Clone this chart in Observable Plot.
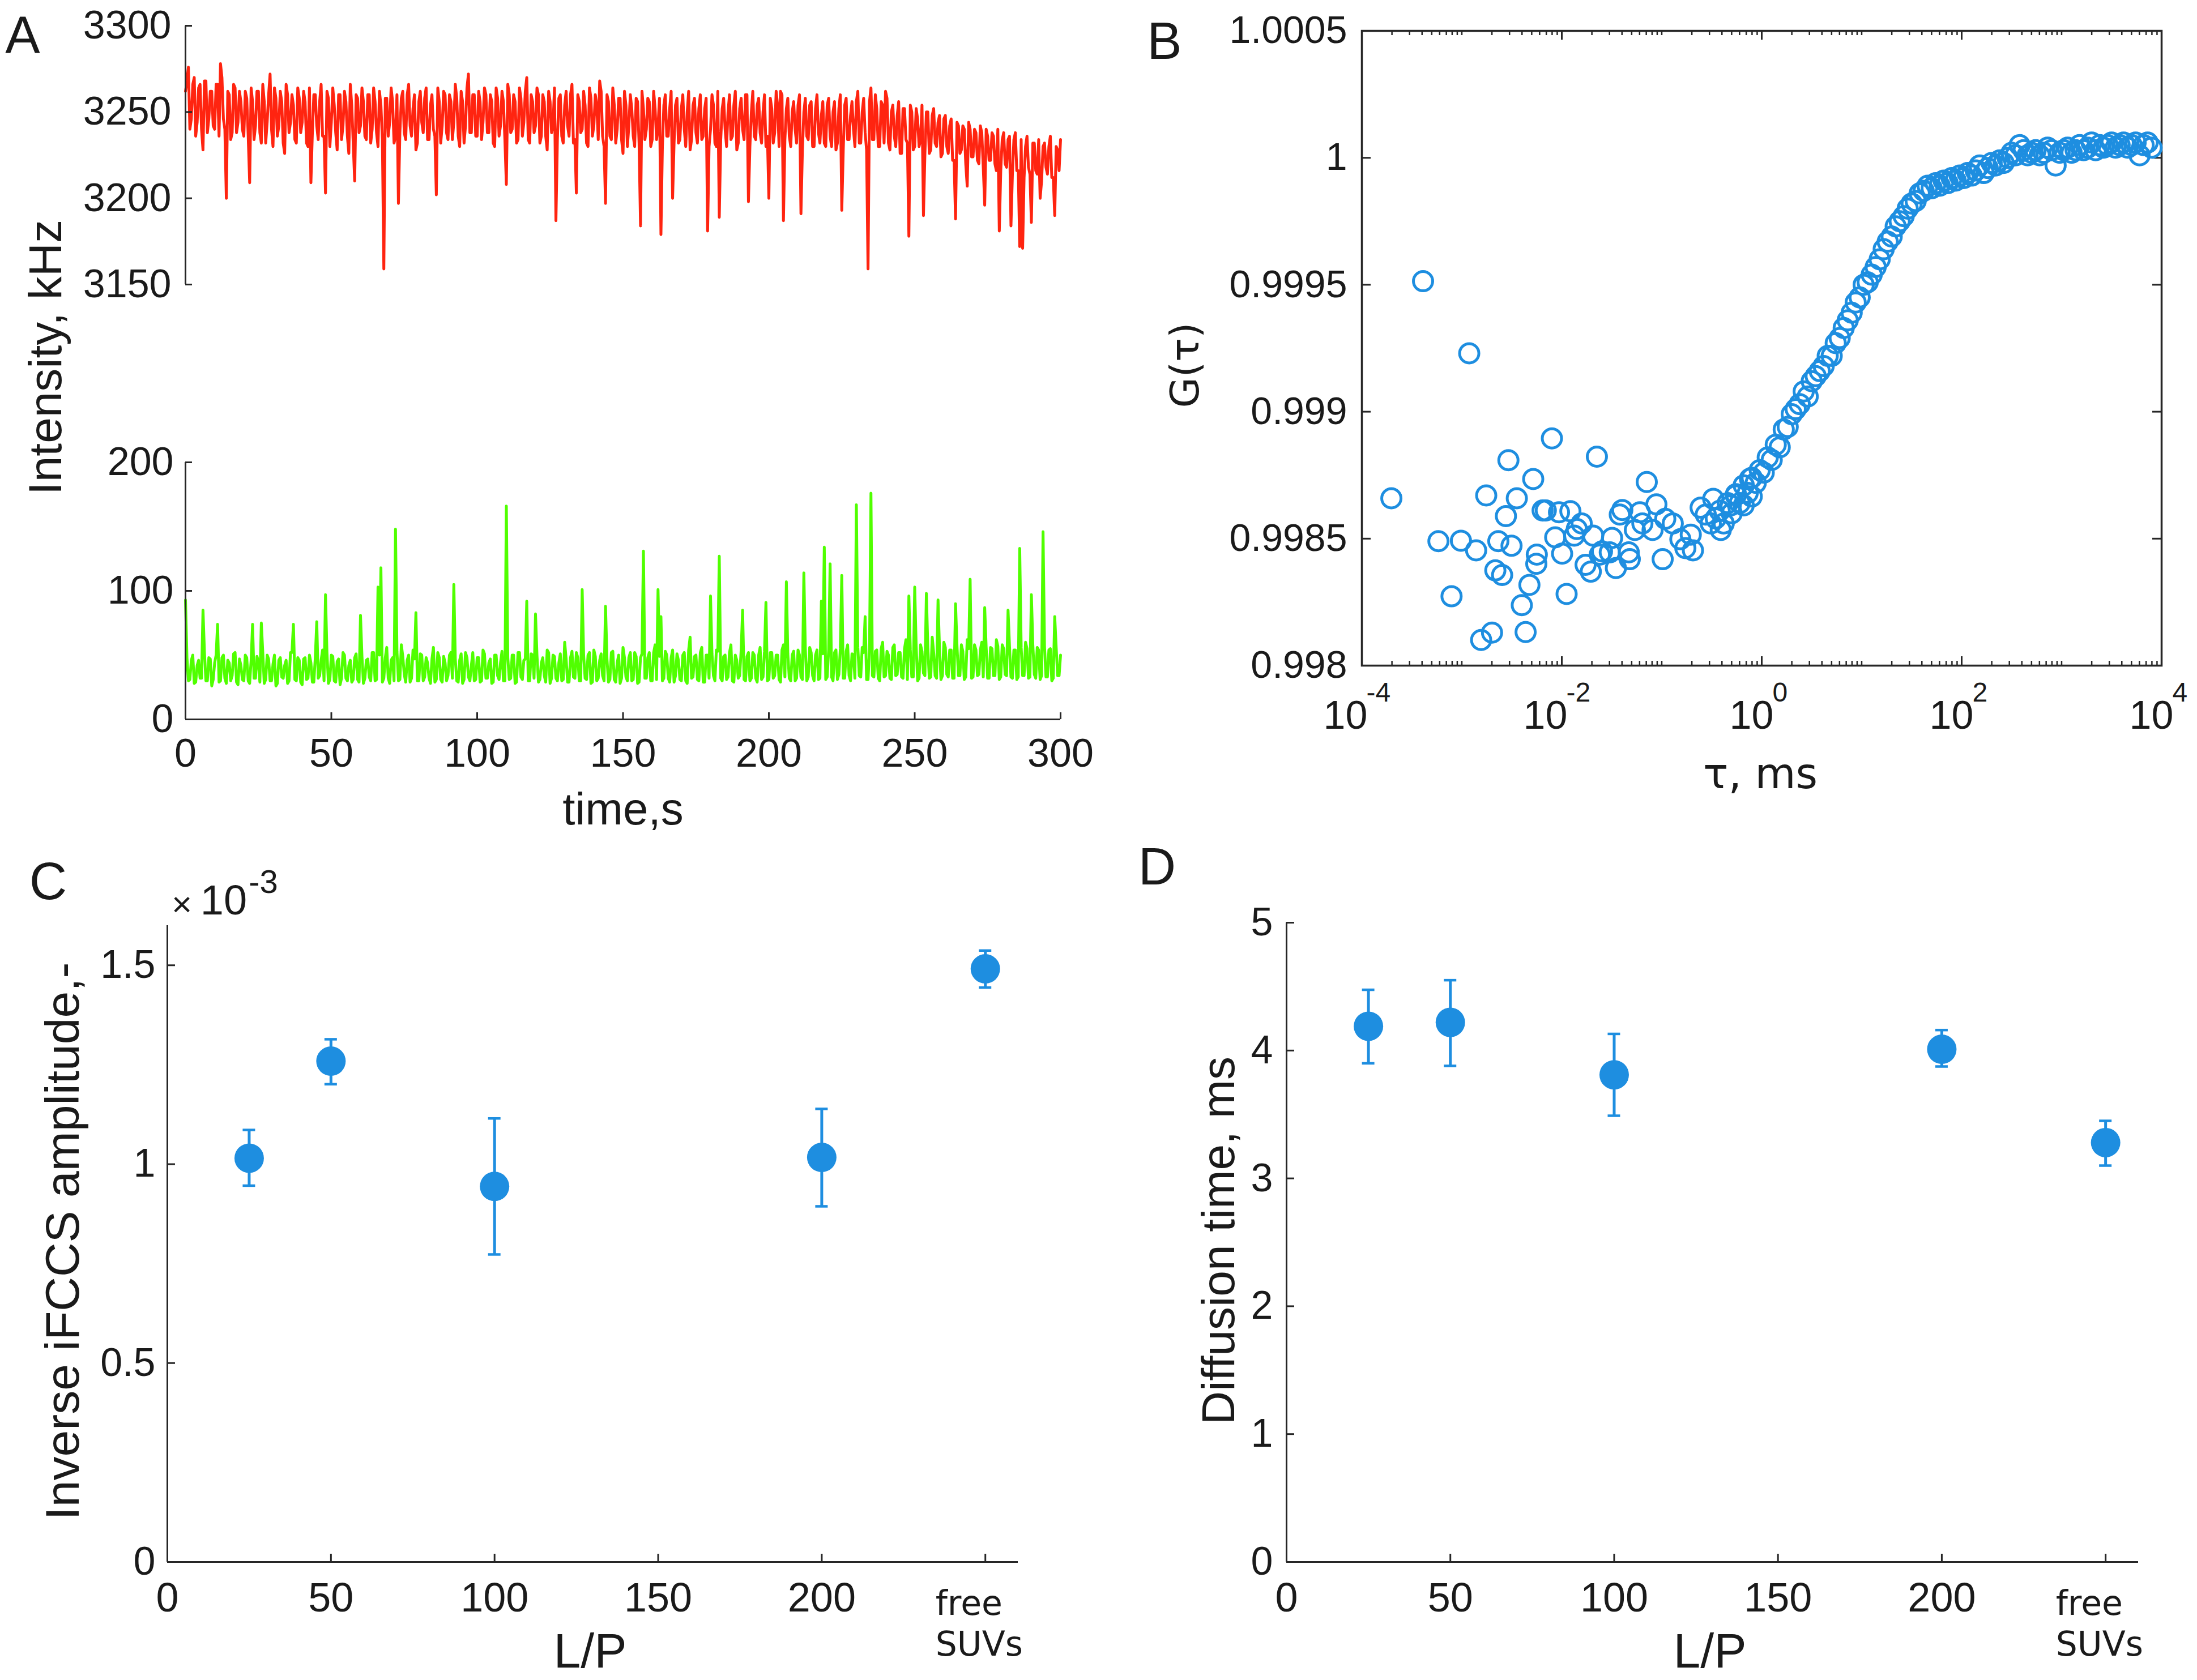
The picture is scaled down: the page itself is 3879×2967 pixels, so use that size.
<!DOCTYPE html>
<html><head><meta charset="utf-8">
<script src="https://cdn.jsdelivr.net/npm/d3@7"></script>
<script src="https://cdn.jsdelivr.net/npm/@observablehq/plot@0.6"></script>
<style>
body{margin:0;background:#fff;}
#fig{position:relative;width:3879px;height:2967px;background:#fff;overflow:hidden;font-family:"Liberation Sans",Arial,sans-serif;color:#1a1a1a;}
.lbl{position:absolute;white-space:nowrap;line-height:1;}
</style></head><body><div id="fig"></div>
<script>
// ---------------- DATA ----------------
// Panel A: time axis (s) and intensity traces (samples at whole seconds and at half seconds)
const timeSec = d3.range(0, 301);
const redTrace = [
3262,3276,3246,3270,3244,3266,3228,3268,3246,3262,3240,3266,3278,3246,3200,3260,3238,3264,3244,3256,
3236,3258,3209,3256,3242,3262,3232,3256,3244,3272,3230,3258,3242,3256,3226,3260,3244,3254,3232,3258,
3244,3256,3230,3209,3260,3242,3256,3236,3203,3258,3244,3254,3228,3260,3242,3256,3226,3254,3210,3258,
3242,3256,3234,3260,3240,3256,3230,3254,3159,3258,3244,3256,3236,3197,3258,3238,3260,3242,3252,3228,
3256,3244,3258,3234,3254,3240,3202,3256,3242,3260,3234,3256,3244,3258,3230,3256,3242,3272,3238,3260,
3236,3256,3244,3260,3238,3256,3230,3258,3242,3256,3208,3260,3240,3256,3234,3258,3244,3270,3232,3256,
3242,3260,3236,3256,3228,3256,3242,3187,3258,3236,3254,3242,3260,3232,3203,3256,3240,3254,3230,3258,
3242,3254,3268,3236,3197,3256,3234,3254,3240,3258,3226,3254,3242,3252,3230,3256,3184,3252,3240,3256,
3234,3252,3242,3179,3254,3236,3252,3200,3254,3232,3252,3240,3250,3228,3254,3238,3252,3234,3252,3181,
3240,3254,3230,3189,3252,3240,3250,3234,3254,3228,3252,3240,3260,3198,3250,3236,3254,3238,3250,3230,
3200,3252,3238,3254,3262,3187,3252,3236,3250,3240,3254,3191,3250,3236,3254,3230,3252,3238,3248,3232,
3254,3236,3250,3228,3252,3193,3254,3234,3248,3240,3256,3232,3250,3238,3159,3264,3234,3252,3230,3254,
3262,3232,3250,3236,3248,3226,3252,3234,3178,3250,3230,3246,3234,3190,3250,3226,3248,3232,3244,3224,
3246,3230,3242,3222,3188,3242,3228,3240,3207,3240,3224,3238,3220,3238,3196,3236,3222,3236,3216,3181,
3234,3220,3234,3184,3234,3216,3172,3171,3230,3218,3186,3232,3214,3200,3230,3218,3230,3212,3190,3228,
3234];
const redMid = [
3268,3240,3266,3236,3264,3240,3268,3238,3262,3242,3266,3236,3270,3240,3262,3234,3266,3238,3262,3240,
3262,3236,3264,3234,3262,3238,3266,3232,3260,3240,3264,3236,3262,3232,3266,3238,3260,3234,3264,3238,
3262,3232,3264,3238,3260,3234,3266,3236,3262,3230,3264,3238,3260,3234,3262,3236,3266,3232,3260,3238,
3264,3236,3260,3232,3264,3238,3262,3234,3258,3236,3264,3232,3260,3238,3262,3234,3266,3236,3260,3232,
3262,3238,3264,3234,3260,3236,3264,3232,3262,3238,3260,3234,3266,3236,3262,3232,3264,3238,3260,3236,
3262,3234,3264,3238,3260,3232,3264,3236,3262,3234,3266,3238,3260,3232,3264,3236,3262,3234,3260,3238,
3264,3232,3260,3236,3262,3238,3264,3234,3260,3232,3262,3236,3266,3234,3260,3238,3262,3232,3264,3236,
3260,3234,3262,3230,3260,3236,3264,3232,3258,3234,3262,3230,3260,3236,3258,3232,3262,3234,3258,3230,
3262,3234,3258,3230,3260,3236,3262,3232,3258,3234,3260,3230,3262,3234,3258,3232,3260,3236,3258,3230,
3260,3232,3262,3234,3258,3230,3260,3236,3262,3232,3258,3234,3260,3230,3262,3234,3258,3232,3260,3236,
3258,3232,3262,3230,3260,3234,3258,3230,3256,3232,3260,3228,3258,3234,3256,3230,3260,3232,3256,3230,
3258,3230,3256,3232,3260,3228,3258,3234,3256,3230,3262,3232,3258,3228,3256,3234,3260,3230,3256,3232,
3258,3228,3254,3230,3256,3226,3252,3232,3254,3228,3252,3230,3254,3226,3250,3228,3252,3230,3248,3226,
3248,3226,3246,3222,3244,3226,3242,3220,3244,3224,3240,3222,3242,3218,3240,3222,3238,3220,3240,3216,
3238,3218,3236,3214,3238,3216,3234,3212,3236,3214,3232,3216,3234,3210,3232,3214,3236,3212,3230,3216];
const greenTrace = [
93,30,46,28,42,32,85,30,48,26,44,74,30,50,28,44,34,52,27,42,
30,48,28,74,32,45,75,28,50,30,43,26,46,33,42,28,52,74,30,46,
27,48,32,44,29,76,34,54,97,28,50,30,45,27,52,32,42,29,48,31,
81,28,46,33,52,30,103,118,32,56,28,48,148,30,58,35,46,29,54,83,
30,50,33,44,28,56,31,48,29,44,34,52,105,30,46,28,52,33,42,30,
48,29,54,32,44,28,50,34,44,30,166,31,50,28,52,33,46,92,30,50,
82,29,44,34,54,28,50,32,44,30,60,29,48,33,52,30,101,32,50,28,
54,30,46,34,88,29,52,31,44,28,56,33,48,30,52,28,48,131,32,52,
30,58,101,80,32,50,29,54,34,46,30,52,28,64,33,50,30,56,29,50,
96,34,54,127,30,50,33,58,29,46,34,85,30,52,32,50,29,56,33,91,
31,52,34,50,29,58,107,32,50,30,54,33,114,30,56,34,50,31,92,134,
33,121,30,54,35,112,32,58,30,50,167,34,56,80,31,176,33,54,30,60,
34,50,31,58,35,52,32,62,96,33,103,30,58,36,98,32,64,34,93,31,
60,35,54,32,90,34,58,31,62,109,33,54,35,60,87,32,56,34,62,31,
58,35,85,33,54,31,133,34,60,32,97,35,56,31,146,33,54,30,80,34,
50];
const greenMid = [
48,31,50,29,46,32,52,30,47,31,50,29,48,32,46,30,51,29,47,31,
50,30,46,32,49,29,52,31,47,30,50,28,48,32,46,30,52,31,48,29,
47,31,50,29,48,32,46,30,52,31,49,29,47,32,50,30,46,31,51,29,
49,32,47,30,52,31,50,29,48,32,46,30,53,31,49,29,50,32,47,30,
51,30,48,32,47,29,52,31,49,30,50,32,47,29,51,31,48,30,52,31,
48,30,51,32,47,29,50,31,53,30,48,32,50,29,52,31,47,30,51,32,
50,31,48,29,52,32,49,30,51,31,47,29,53,32,48,30,50,31,52,29,
49,32,51,30,47,31,53,29,50,32,48,30,52,31,49,29,51,32,48,30,
52,31,49,30,53,32,48,29,51,31,50,30,54,32,49,31,52,29,50,32,
51,30,53,32,49,31,52,30,50,32,54,31,49,30,52,32,50,31,53,30,
52,32,50,31,54,33,51,30,53,32,50,31,55,33,52,30,54,32,51,31,
54,33,52,31,55,32,53,34,51,32,56,33,52,31,54,34,53,32,55,33,
53,32,56,34,52,33,55,31,54,33,57,32,53,34,56,33,52,32,55,34,
56,33,54,32,57,34,53,33,55,32,58,34,54,33,56,32,55,34,57,33,
55,34,57,32,54,33,56,34,55,33,58,32,54,34,57,33,55,32,56,34];
const topTicks = [3150, 3200, 3250, 3300];
const bottomTicks = [0, 100, 200];
const timeTicks = [0, 50, 100, 150, 200, 250, 300];

// Panel B: correlation curve, log10(tau/ms) and G(tau)
const scatterLogTau = [-3.705,-3.388,-2.926,-2.099,-1.649,-2.534,-2.286,-2.756,-2.450,-2.559,-1.150,-2.192,-2.160,-2.028,-1.914,-1.395,-1.420,-1.054,-1.219,-3.234,-3.009,-2.857,-2.635,-2.503,-2.066,-2.250,-2.255,-1.997,-1.876,-1.801,-1.850,-1.686,-2.665,-2.597,-2.324,-3.103,-2.400,-1.952,-2.362,-2.698,-2.807,-1.762,-1.710,-1.598,-1.497,-1.459,-1.320,-1.330,-1.520,-1.620,-1.269,-1.194,-1.092,-0.991,-0.965,-0.890,-0.814,-0.764,-0.688,-0.710,-0.611,-0.485,-0.510,-0.410,-0.560,-0.258,-0.118,-0.180,-0.310,-0.100];
const scatterG = [0.998659,0.999514,0.999230,0.998895,0.998823,0.998809,0.998735,0.998670,0.998659,0.998589,0.998723,0.998611,0.998611,0.998604,0.998608,0.998613,0.998595,0.998635,0.998604,0.998490,0.998492,0.998454,0.998490,0.998472,0.998505,0.998437,0.998401,0.998441,0.998512,0.998560,0.998538,0.998512,0.998375,0.998357,0.998318,0.998273,0.998238,0.998282,0.998132,0.998130,0.998101,0.998397,0.998370,0.998450,0.998503,0.998384,0.998419,0.998446,0.998446,0.998437,0.998534,0.998560,0.998534,0.998419,0.998578,0.998560,0.998498,0.998463,0.998454,0.998516,0.998622,0.998657,0.998560,0.998534,0.998595,0.998675,0.998736,0.998631,0.998631,0.998666];
const curveLogTau = [-0.46,-0.42,-0.38,-0.34,-0.30,-0.26,-0.22,-0.18,-0.14,-0.10,-0.06,-0.02,0.02,0.06,0.10,0.14,0.18,0.22,0.26,0.30,0.34,0.38,0.42,0.46,0.50,0.54,0.58,0.62,0.66,0.70,0.74,0.78,0.82,0.86,0.90,0.94,0.98,1.02,1.06,1.10,1.14,1.18,1.22,1.26,1.30,1.34,1.38,1.42,1.46,1.50,1.54,1.58,1.62,1.66,1.70,1.74,1.78,1.82,1.86,1.90,1.94,1.98,2.02,2.06,2.10,2.14,2.18,2.22,2.26,2.30,2.34,2.38,2.42,2.46,2.50,2.54,2.58,2.62,2.66,2.70,2.74,2.78,2.82,2.86,2.90,2.94,2.98,3.02,3.06,3.10,3.14,3.18,3.22,3.26,3.30,3.34,3.38,3.42,3.46,3.50,3.54,3.58,3.62,3.66,3.70,3.74,3.78,3.82,3.86,3.90];
const curveG = [0.99858,0.99861,0.99856,0.99864,0.99860,0.99867,0.99864,0.99871,0.99868,0.99874,0.99872,0.99877,0.99876,0.99882,0.99881,0.99887,0.99886,0.99893,0.99894,0.99899,0.99901,0.99903,0.99908,0.99906,0.99912,0.99914,0.99916,0.99918,0.99922,0.99922,0.99927,0.99929,0.99933,0.99936,0.99939,0.99943,0.99945,0.99950,0.99951,0.99954,0.99957,0.99960,0.99964,0.99967,0.99969,0.99973,0.99975,0.99977,0.99980,0.99982,0.99983,0.99986,0.99987,0.99989,0.99988,0.99990,0.99989,0.99991,0.99990,0.99992,0.99991,0.99993,0.99992,0.99994,0.99993,0.99995,0.99997,0.99994,0.99996,0.99998,0.99997,0.99999,0.99998,1.00000,1.00002,1.00001,1.00005,1.00003,1.00001,1.00002,1.00003,1.00001,1.00002,1.00004,1.00003,0.99997,1.00002,1.00003,1.00004,1.00002,1.00003,1.00005,1.00003,1.00004,1.00006,1.00003,1.00005,1.00004,1.00005,1.00006,1.00004,1.00005,1.00006,1.00004,1.00005,1.00006,1.00001,1.00005,1.00006,1.00004];
const tauTicks = [1e-4, 1e-2, 1, 1e2, 1e4];
const tauExpLabels = ["-4", "-2", "0", "2", "4"];
const gTicks = [0.998, 0.9985, 0.999, 0.9995, 1, 1.0005];
const gTickLabels = ["0.998", "0.9985", "0.999", "0.9995", "1", "1.0005"];

// Panels C and D: L/P ratio series
const lpValues = [25, 50, 100, 200, 250];
const ampMean = [1.015, 1.259, 0.944, 1.017, 1.491];
const ampLow  = [0.946, 1.201, 0.773, 0.894, 1.444];
const ampHigh = [1.086, 1.314, 1.115, 1.139, 1.537];
const diffMean = [4.19, 4.22, 3.81, 4.01, 3.28];
const diffLow  = [3.90, 3.88, 3.49, 3.875, 3.10];
const diffHigh = [4.475, 4.55, 4.13, 4.16, 3.45];
const lpTicks = [0, 50, 100, 150, 200, 250];
const lpTickLabels = ["0", "50", "100", "150", "200"];
const lpLastLabel = "free\nSUVs";
const ampTicks = [0, 0.5, 1, 1.5];
const ampTickLabels = ["0", "0.5", "1", "1.5"];
const diffTicks = [0, 1, 2, 3, 4, 5];
const diffTickLabels = ["0", "1", "2", "3", "4", "5"];

// ---------------- STYLE ----------------
const AX = "#262626", TXT = "#1a1a1a";
const RED = "#ff2410", GREEN = "#50ff00", BLUE = "#1e8ee0";
const SANS = '"Liberation Sans", Arial, Helvetica, sans-serif';
const DEJAVU = '"DejaVu Sans", sans-serif';
const fig = document.getElementById("fig");
function place(svg, left, top) {
  svg.style.position = "absolute"; svg.style.left = left + "px"; svg.style.top = top + "px";
  svg.style.maxWidth = "none"; svg.style.overflow = "visible"; svg.style.background = "transparent";
  fig.appendChild(svg);
}
function label(html, x, y, size, opts = {}) {
  const d = document.createElement("div");
  d.className = "lbl";
  d.innerHTML = html;
  d.style.left = x + "px"; d.style.top = y + "px";
  d.style.fontSize = size + "px";
  d.style.fontFamily = opts.family || SANS;
  d.style.transform = "translate(-50%,-50%)" + (opts.rotate ? " rotate(-90deg)" : "");
  fig.appendChild(d);
}
const baseStyle = {fontFamily: SANS, color: TXT, background: "transparent", overflow: "visible"};
// merge whole-second and half-second samples in time order
function merge(whole, half) {
  const rows = [];
  timeSec.forEach((t, i) => {
    rows.push({t, v: whole[i]});
    if (i < half.length) rows.push({t: t + 0.5, v: half[i]});
  });
  return rows;
}
const redSeries = merge(redTrace, redMid);
const greenSeries = merge(greenTrace, greenMid);

// ---------------- PANEL A (top, red) ----------------
{
  const W = 1950, H = 540, mL = 327, mR = 78, mT = 45, mB = 38;
  const fw = W - mL - mR;
  place(Plot.plot({
    width: W, height: H, marginLeft: mL, marginRight: mR, marginTop: mT, marginBottom: mB,
    style: {...baseStyle, fontSize: "70px"},
    x: {domain: [0, 300], axis: null},
    y: {domain: [3150, 3300], axis: null},
    marks: [
      Plot.text(topTicks, {y: d => d, text: d => String(d), frameAnchor: "left", textAnchor: "end", dx: -25, fontSize: 70, fill: TXT}),
      Plot.line(redSeries, {x: "t", y: "v", stroke: RED, strokeWidth: 5}),
      Plot.ruleX([0], {stroke: AX, strokeWidth: 3}),
      Plot.tickY(topTicks, {y: d => d, stroke: AX, strokeWidth: 3, insetRight: fw - 12})
    ]
  }), 0, 0);
}
// ---------------- PANEL A (bottom, green) ----------------
{
  const W = 1950, H = 780, mL = 327, mR = 78, mT = 116, mB = 210;
  const fw = W - mL - mR, fh = H - mT - mB;
  place(Plot.plot({
    width: W, height: H, marginLeft: mL, marginRight: mR, marginTop: mT, marginBottom: mB,
    style: {...baseStyle, fontSize: "70px"},
    x: {domain: [0, 300], axis: null},
    y: {domain: [0, 200], axis: null},
    marks: [
      Plot.text(bottomTicks, {y: d => d, text: d => String(d), frameAnchor: "left", textAnchor: "end", dx: -21, fontSize: 70, fill: TXT}),
      Plot.text(timeTicks, {x: d => d, text: d => String(d), frameAnchor: "bottom", lineAnchor: "top", dy: 34, fontSize: 70, fill: TXT}),
      Plot.line(greenSeries, {x: "t", y: "v", stroke: GREEN, strokeWidth: 5}),
      Plot.ruleX([0], {stroke: AX, strokeWidth: 3}),
      Plot.ruleY([0], {stroke: AX, strokeWidth: 3}),
      Plot.tickY(bottomTicks, {y: d => d, stroke: AX, strokeWidth: 3, insetRight: fw - 12}),
      Plot.tickX(timeTicks, {x: d => d, stroke: AX, strokeWidth: 3, insetTop: fh - 12})
    ]
  }), 0, 700);
}
// ---------------- PANEL B ----------------
{
  const W = 1889, H = 1420, mL = 414, mR = 63, mT = 54, mB = 245;
  const fw = W - mL - mR, fh = H - mT - mB;
  const minorTau = [];
  for (let e = -4; e < 4; e++) for (let m = 1; m <= 9; m++) {
    if (m === 1 && e % 2 === 0) continue;
    minorTau.push(m * Math.pow(10, e));
  }
  const negT = tauTicks.slice(0, 2), posT = tauTicks.slice(2);
  place(Plot.plot({
    width: W, height: H, marginLeft: mL, marginRight: mR, marginTop: mT, marginBottom: mB,
    style: {...baseStyle, fontSize: "68px"},
    x: {type: "log", domain: [1e-4, 1e4], axis: null},
    y: {domain: [0.998, 1.0005], axis: null},
    marks: [
      Plot.frame({stroke: AX, strokeWidth: 3.5}),
      Plot.tickX(minorTau, {x: d => d, stroke: AX, strokeWidth: 2.5, insetTop: fh - 8}),
      Plot.tickX(minorTau, {x: d => d, stroke: AX, strokeWidth: 2.5, insetBottom: fh - 8}),
      Plot.tickX(tauTicks, {x: d => d, stroke: AX, strokeWidth: 3, insetTop: fh - 16}),
      Plot.tickX(tauTicks, {x: d => d, stroke: AX, strokeWidth: 3, insetBottom: fh - 16}),
      Plot.tickY(gTicks, {y: d => d, stroke: AX, strokeWidth: 3, insetRight: fw - 16}),
      Plot.tickY(gTicks, {y: d => d, stroke: AX, strokeWidth: 3, insetLeft: fw - 16}),
      Plot.text(gTicks, {y: d => d, text: (d, i) => gTickLabels[i], frameAnchor: "left", textAnchor: "end", dx: -26, fontSize: 68, fill: TXT}),
      Plot.text(negT, {x: d => d, text: () => "10", frameAnchor: "bottom", lineAnchor: "top", dy: 62, dx: -29, fontSize: 70, fill: TXT}),
      Plot.text(negT, {x: d => d, text: (d, i) => tauExpLabels[i], frameAnchor: "bottom", textAnchor: "start", dy: 63, dx: 8, fontSize: 48, fill: TXT}),
      Plot.text(posT, {x: d => d, text: () => "10", frameAnchor: "bottom", lineAnchor: "top", dy: 62, dx: -18, fontSize: 70, fill: TXT}),
      Plot.text(posT, {x: d => d, text: (d, i) => tauExpLabels[i + 2], frameAnchor: "bottom", textAnchor: "start", dy: 63, dx: 19, fontSize: 48, fill: TXT}),
      Plot.dot(scatterG, {x: scatterLogTau.map(v => Math.pow(10, v)), y: d => d, r: 17, stroke: BLUE, strokeWidth: 5, fill: "none"}),
      Plot.dot(curveG, {x: curveLogTau.map(v => Math.pow(10, v)), y: d => d, r: 17, stroke: BLUE, strokeWidth: 5, fill: "none"})
    ]
  }), 1990, 0);
}
// ---------------- PANELS C and D ----------------
function lpPanel({left, top, W, H, mL, mR, mT, mB, yDomain, yTicks, yLabels, yPad, mean, lo, hi}) {
  const fw = W - mL - mR, fh = H - mT - mB;
  place(Plot.plot({
    width: W, height: H, marginLeft: mL, marginRight: mR, marginTop: mT, marginBottom: mB,
    style: {...baseStyle, fontSize: "68px"},
    x: {domain: [0, 260], axis: null},
    y: {domain: yDomain, axis: null},
    marks: [
      Plot.ruleX([0], {stroke: AX, strokeWidth: 3}),
      Plot.ruleY([0], {stroke: AX, strokeWidth: 3}),
      Plot.tickY(yTicks, {y: d => d, stroke: AX, strokeWidth: 3, insetRight: fw - 14}),
      Plot.tickX(lpTicks, {x: d => d, stroke: AX, strokeWidth: 3, insetTop: fh - 14}),
      Plot.text(yTicks, {y: d => d, text: (d, i) => yLabels[i], frameAnchor: "left", textAnchor: "end", dx: -yPad, fontSize: 70, fill: TXT}),
      Plot.text(lpTicks.slice(0, 5), {x: d => d, text: (d, i) => lpTickLabels[i], frameAnchor: "bottom", lineAnchor: "top", dy: 36, fontSize: 72, fill: TXT}),
      Plot.text(lpTicks.slice(5), {x: d => d, text: () => lpLastLabel, frameAnchor: "bottom", lineAnchor: "top", textAnchor: "start", dx: -88, dy: 42, fontSize: 60, lineHeight: 1.2, fontFamily: DEJAVU, fill: TXT}),
      Plot.ruleX(lpValues, {x: lpValues, y1: lo, y2: hi, stroke: BLUE, strokeWidth: 5}),
      Plot.ruleY(lpValues, {x1: lpValues, x2: lpValues, y: lo, insetLeft: -11, insetRight: -11, stroke: BLUE, strokeWidth: 4.5}),
      Plot.ruleY(lpValues, {x1: lpValues, x2: lpValues, y: hi, insetLeft: -11, insetRight: -11, stroke: BLUE, strokeWidth: 4.5}),
      Plot.dot(lpValues, {x: lpValues, y: mean, r: 26, fill: BLUE, stroke: "none"})
    ]
  }), left, top);
}
lpPanel({left: 0, top: 1500, W: 1900, H: 1467, mL: 295, mR: 103, mT: 134, mB: 209,
  yDomain: [0, 1.6], yTicks: ampTicks, yLabels: ampTickLabels, yPad: 21, mean: ampMean, lo: ampLow, hi: ampHigh});
lpPanel({left: 1950, top: 1500, W: 1929, H: 1467, mL: 321, mR: 104, mT: 129, mB: 209,
  yDomain: [0, 5], yTicks: diffTicks, yLabels: diffTickLabels, yPad: 24, mean: diffMean, lo: diffLow, hi: diffHigh});

// ---------------- TEXT LABELS ----------------
label("A", 40, 62, 92);
label("B", 2056, 72, 92);
label("C", 85, 1556, 92);
label("D", 2043, 1530, 92);
label("Intensity, kHz", 80, 631, 82, {rotate: true});
label("time,s", 1100, 1429, 80);
label("G(τ)", 2092, 645, 70, {family: DEJAVU, rotate: true});
label("τ, ms", 3108, 1366, 74, {family: DEJAVU});
label("Inverse iFCCS amplitude,-", 110, 2192, 84, {rotate: true});
label("L/P", 1042, 2915, 86);
label("Diffusion time, ms", 2151, 2191, 82, {rotate: true});
label("L/P", 3019, 2915, 86);
// axis exponent multiplier of panel C
label("×", 321, 1597, 62);
label("10", 395, 1590, 74);
label("-3", 465, 1557, 58);
</script></body></html>
